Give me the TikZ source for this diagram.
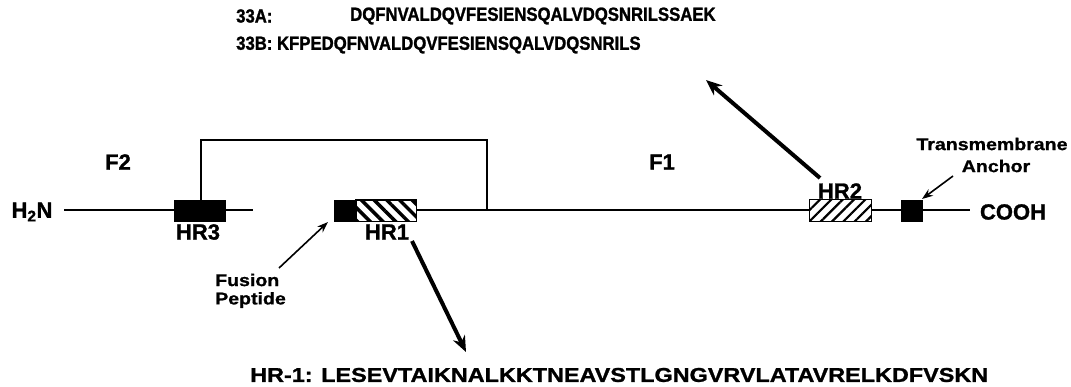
\documentclass[tikz,border=0pt]{standalone}
\usepackage{fontspec}
\setmainfont{Liberation Sans}
\newfontfamily\seqfont[FakeStretch=0.88,FakeBold=1.3]{Liberation Sans}
\newfontfamily\hrfont[FakeStretch=1.17,FakeBold=1.2]{Liberation Sans}
\newfontfamily\lblfont[FakeBold=1.2]{Liberation Sans}
\newfontfamily\smallfont[FakeStretch=1.15,FakeBold=1]{Liberation Sans}
\usetikzlibrary{arrows.meta,patterns.meta}
\tikzset{
  seqtext/.style={anchor=west, inner sep=0pt, font=\seqfont\bfseries\fontsize{19}{19}\selectfont},
  hrtext/.style={anchor=west, inner sep=0pt, font=\hrfont\bfseries\fontsize{20}{20}\selectfont},
  lbl/.style={inner sep=0pt, font=\lblfont\bfseries\fontsize{22}{22}\selectfont},
  sml/.style={inner sep=0pt, font=\smallfont\bfseries\fontsize{17}{18}\selectfont},
  chain/.style={line width=2.2pt},
  blackbox/.style={draw=black, fill=black, line width=1pt},
  hatchA/.style={pattern={Lines[angle=-45,distance=9pt,line width=3.5pt]}},
  hatchB/.style={pattern={Lines[angle=45,distance=8pt,line width=2.2pt]}},
  bigarrow/.style={line width=4pt, -{Stealth[length=16pt,width=13pt]}},
  thinarrow/.style={line width=1.6pt, -{Stealth[length=11pt,width=8pt]}},
}
\begin{document}
\begin{tikzpicture}[x=1pt,y=-1pt]
\useasboundingbox (0,0) rectangle (1071,386);
% sequences
\node[seqtext] (l33a) at (236,16) {33A:};
\node[seqtext] (s33a) at (350,16) {DQFNVALDQVFESIENSQALVDQSNRILSSAEK};
\node[seqtext] (s33b) at (236,45) {33B: KFPEDQFNVALDQVFESIENSQALVDQSNRILS};
\node[hrtext] (shr1) at (250,375) {HR-1: LESEVTAIKNALKKTNEAVSTLGNGVRVLATAVRELKDFVSKN};
% boxes
\node[blackbox, inner sep=0pt, minimum width=51pt, minimum height=21pt] (hr3) at (199.5,210.5) {};
\node[blackbox, inner sep=0pt, minimum width=22pt, minimum height=21pt] (fp) at (345,210.5) {};
\node[draw, line width=1pt, fill=white, inner sep=0pt, minimum width=60pt, minimum height=21pt] (hr1) at (386,210.5) {};
\node[draw, line width=1pt, fill=white, inner sep=0pt, minimum width=61pt, minimum height=21pt] (hr2) at (840.5,210.5) {};
\node[blackbox, inner sep=0pt, minimum width=21pt, minimum height=21pt] (tm) at (911.5,210.5) {};
% chain (behind boxes drawn again below)
\coordinate (nstart) at (64,210);
\coordinate (nend) at (253,210);
\coordinate (cend) at (970,210);
\draw[chain] (nstart) -- (nend);
\draw[chain] (hr1.east |- 0,210) -- (cend);
% redraw boxes on top of chain
\node[blackbox, inner sep=0pt, minimum width=51pt, minimum height=21pt] at (hr3) {};
\node[blackbox, inner sep=0pt, minimum width=21pt, minimum height=21pt] at (tm) {};
\path[fill=white] (hr2.south west) rectangle (hr2.north east);
\path[hatchA] (hr1.south west) rectangle (hr1.north east);
\draw[line width=1pt] (hr1.south west) rectangle (hr1.north east);
\path[hatchB] (hr2.south west) rectangle (hr2.north east);
\draw[line width=1pt] (hr2.south west) rectangle (hr2.north east);
% bracket
\coordinate (brL) at (201,200);
\coordinate (brR) at (487,210);
\draw[line width=2.6pt] (brL) |- (487,140) -- (brR);
% labels
\node[lbl] (h2n) at (32,212) {H\textsubscript{2}N};
\node[lbl] (cooh) at (1013,212) {COOH};
\node[lbl] (f2) at (118,162) {F2};
\node[lbl] (f1) at (662,162) {F1};
\node[lbl] (lhr3) at (198,232) {HR3};
\node[lbl] (lhr1) at (387,232) {HR1};
\node[lbl] (lhr2) at (840,191) {HR2};
\node[sml, anchor=west] (fusion) at (215,280) {Fusion};
\node[sml, anchor=west] (peptide) at (215,300) {Peptide};
\node[sml] (trans) at (992,144) {Transmembrane};
\node[sml] (anchor) at (996,166) {Anchor};
% arrows
\coordinate (a1s) at (412,241);
\coordinate (a1e) at (466,352);
\draw[bigarrow] (a1s) -- (a1e);
\coordinate (a2s) at (820,178);
\coordinate (a2e) at (706,80);
\draw[bigarrow] (a2s) -- (a2e);
\coordinate (fps) at (279,268);
\coordinate (fpe) at (328,222);
\draw[thinarrow] (fps) -- (fpe);
\coordinate (tms) at (953,176);
\coordinate (tme) at (922,199);
\draw[thinarrow] (tms) -- (tme);
\end{tikzpicture}
\end{document}
